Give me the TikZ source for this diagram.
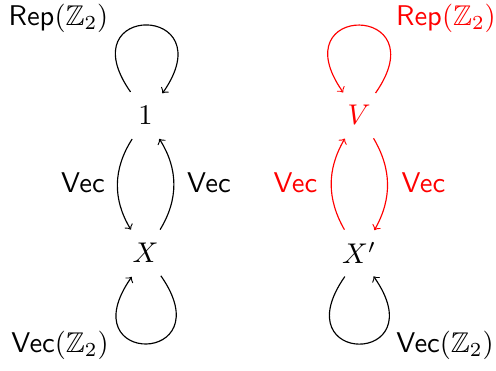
\RequirePackage{fix-cm}
\documentclass[tikz,border=0pt]{standalone}
\usepackage{amssymb}
\begin{document}
\begin{tikzpicture}[x=0.4pt,y=-0.4pt,
  font=\fontsize{11.4}{14}\selectfont,
  line width=0.46pt,
  obj/.style={circle,inner sep=0pt,outer sep=0pt,minimum size=22pt},
  lbl/.style={inner sep=0pt},
  arr/.style={->},
  redc/.style={red}]
\useasboundingbox (0,0) rectangle (496,371);
% objects
\node[obj] (one) at (145.5,115) {$1$};
\node[obj] (X) at (145.5,253) {$X$};
\node[obj,redc] (V) at (359,115) {$V$};
\node[obj] (Xp) at (359,253) {$X'$};
% labels
\node[lbl] (l1) at (58.5,18.5) {$\mathsf{Rep}(\mathbb{Z}_2)$};
\node[lbl] (l2) at (83,183) {$\mathsf{Vec}$};
\node[lbl] (l3) at (209,183) {$\mathsf{Vec}$};
\node[lbl] (l4) at (60,345.5) {$\mathsf{Vec}(\mathbb{Z}_2)$};
\node[lbl,redc] (r1) at (446,18.5) {$\mathsf{Rep}(\mathbb{Z}_2)$};
\node[lbl,redc] (r2) at (295.5,183) {$\mathsf{Vec}$};
\node[lbl,redc] (r3) at (423.5,183) {$\mathsf{Vec}$};
\node[lbl] (r4) at (445,345.5) {$\mathsf{Vec}(\mathbb{Z}_2)$};
% left column
\draw[arr] (one.123) to[out=125,in=55,distance=44pt] (one.52);
\draw[arr] (one.241) to[bend right=32] (X.122);
\draw[arr] (X.58) to[bend right=32] (one.300);
\draw[arr] (X.304) to[out=-55,in=-125,distance=44pt] (X.240);
% right column
\draw[arr,redc] (V.53) to[out=55,in=125,distance=44pt] (V.125);
\draw[arr,redc] (Xp.122) to[bend left=30] (V.239);
\draw[arr,redc] (V.302) to[bend left=30] (Xp.56);
\draw[arr] (Xp.239) to[out=-125,in=-55,distance=44pt] (Xp.302);
\end{tikzpicture}
\end{document}
